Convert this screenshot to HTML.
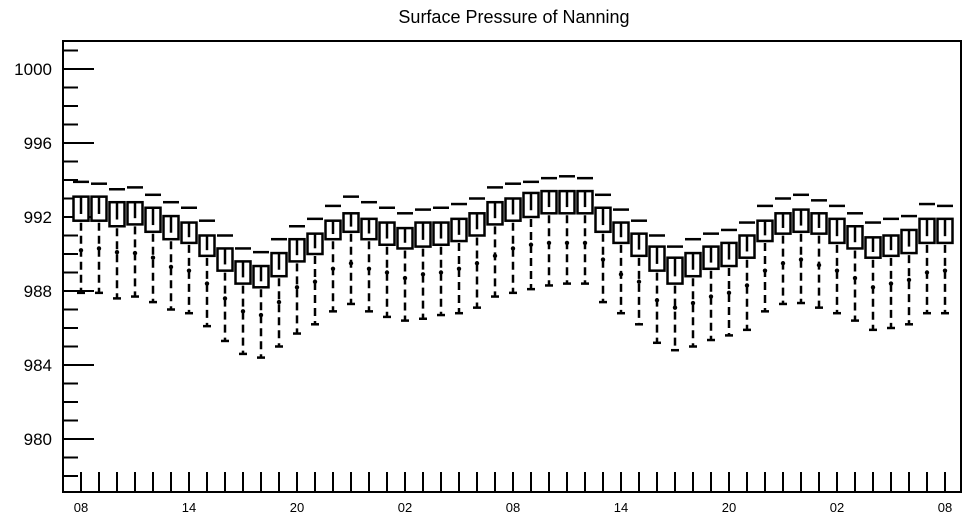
<!DOCTYPE html>
<html><head><meta charset="utf-8"><style>
html,body{margin:0;padding:0;background:#fff;}
svg{display:block;font-family:"Liberation Sans",Arial,sans-serif;}
</style></head><body>
<svg id="chart" width="968" height="520" viewBox="0 0 968 520" xmlns="http://www.w3.org/2000/svg">
<text x="514" y="23" text-anchor="middle" font-size="18" fill="#000">Surface Pressure of Nanning</text>
<rect x="63" y="41" width="898" height="451" fill="none" stroke="#000" stroke-width="2"/>
<g id="yaxis"></g>
<g id="xaxis"></g>
<g id="boxes"></g>
</svg>
<script>
const maxVals=[993.9,993.8,993.5,993.6,993.2,992.8,992.5,991.8,991.0,990.3,990.1,990.8,991.5,991.9,992.6,993.1,992.8,992.5,992.2,992.4,992.5,992.7,993.0,993.6,993.8,993.9,994.1,994.2,994.1,993.2,992.4,991.8,991.0,990.4,990.8,991.1,991.3,991.7,992.6,993.0,993.2,992.9,992.6,992.2,991.7,991.9,992.05,992.7,992.6];
const q3Vals=[993.1,993.1,992.8,992.8,992.5,992.05,991.7,991.0,990.3,989.6,989.35,990.05,990.8,991.1,991.8,992.2,991.9,991.7,991.4,991.7,991.7,991.9,992.2,992.8,993.0,993.3,993.4,993.4,993.4,992.5,991.7,991.1,990.4,989.8,990.05,990.4,990.6,991.0,991.8,992.2,992.4,992.2,991.9,991.5,990.9,991.0,991.3,991.9,991.9];
const q1Vals=[991.8,991.8,991.5,991.6,991.2,990.8,990.6,989.9,989.1,988.4,988.2,988.8,989.6,990.0,990.8,991.2,990.8,990.5,990.3,990.4,990.5,990.7,991.0,991.6,991.8,992.0,992.2,992.2,992.2,991.2,990.6,989.9,989.1,988.4,988.8,989.2,989.35,989.8,990.7,991.1,991.2,991.1,990.6,990.3,989.8,989.9,990.05,990.6,990.6];
const p10Vals=[990.2,990.3,990.1,990.05,989.8,989.3,989.1,988.4,987.6,986.9,986.7,987.4,988.2,988.5,989.2,989.5,989.2,989.0,988.7,988.9,989.0,989.2,989.5,989.9,990.3,990.5,990.6,990.6,990.6,989.7,988.9,988.5,987.5,987.1,987.35,987.7,987.9,988.3,989.1,989.5,989.7,989.4,989.1,988.7,988.2,988.4,988.6,989.0,989.1];
const minVals=[987.9,987.9,987.6,987.7,987.4,987.0,986.8,986.1,985.3,984.6,984.4,985.0,985.7,986.2,986.9,987.3,986.9,986.6,986.4,986.5,986.7,986.8,987.1,987.7,987.9,988.1,988.3,988.4,988.4,987.4,986.8,986.2,985.2,984.8,985.0,985.35,985.6,985.9,986.9,987.3,987.35,987.1,986.8,986.4,985.9,986.0,986.2,986.8,986.8];
const xTickLabels=["08","14","20","02","08","14","20","02","08"];
const yTickLabels=[980,984,988,992,996,1000];

const NS="http://www.w3.org/2000/svg";
function yS(v){return 69+(1000-v)*18.5;}
function xS(i){return 81+i*18;}
function mk(tag,attrs,parent){const e=document.createElementNS(NS,tag);for(const k in attrs)e.setAttribute(k,attrs[k]);parent.appendChild(e);return e;}
const ya=document.getElementById('yaxis'),xa=document.getElementById('xaxis'),bx=document.getElementById('boxes');
for(let v=978;v<=1001;v++){
  const major=yTickLabels.includes(v);
  const t=mk('line',{x1:63,x2:major?94:78,y1:yS(v),y2:yS(v),stroke:'#000','stroke-width':2},ya);
  
  
}
yTickLabels.forEach(v=>{
  const t=mk('text',{x:52,y:yS(v)+6,'text-anchor':'end','font-size':17},ya);
  t.textContent=String(v);
  
  
});
for(let i=0;i<maxVals.length;i++){
  const t=mk('line',{x1:xS(i),x2:xS(i),y1:492,y2:472,stroke:'#000','stroke-width':2},xa);
  
  
}
xTickLabels.forEach((s,j)=>{
  const t=mk('text',{x:xS(j*6),y:512,'text-anchor':'middle','font-size':13},xa);
  t.textContent=s;
  
  
});
for(let i=0;i<maxVals.length;i++){
  const x=xS(i),g=mk('g',{},bx);
  
  
  mk('line',{x1:x-8,x2:x+8,y1:yS(maxVals[i]),y2:yS(maxVals[i]),stroke:'#000','stroke-width':2.5},g);
  const top=yS(q3Vals[i]),bot=yS(q1Vals[i]);
  mk('line',{x1:x,x2:x,y1:bot+2,y2:yS(minVals[i]),stroke:'#000','stroke-width':2.5,'stroke-dasharray':'8,5'},g);
  mk('rect',{x:x-7.5,y:top,width:15,height:bot-top,fill:'#fff',stroke:'#000','stroke-width':2.5},g);
  mk('line',{x1:x,x2:x,y1:top,y2:top+(bot-top)*0.72,stroke:'#000','stroke-width':2.5},g);
  mk('circle',{cx:x,cy:yS(p10Vals[i]),r:2.2,fill:'#000'},g);
  mk('line',{x1:x-4,x2:x+4,y1:yS(minVals[i]),y2:yS(minVals[i]),stroke:'#000','stroke-width':2.5},g);
}
</script>
</body></html>
